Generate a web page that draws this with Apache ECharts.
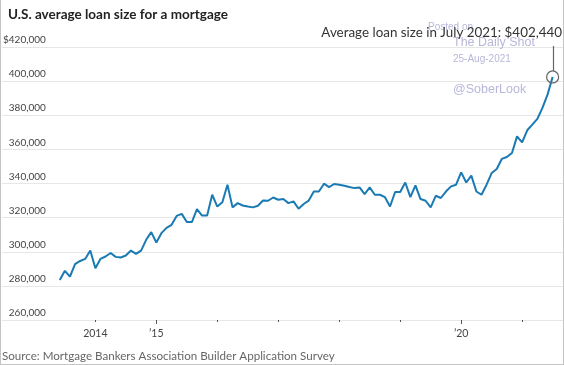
<!DOCTYPE html>
<html><head><meta charset="utf-8">
<script src="https://cdn.jsdelivr.net/npm/echarts@6/dist/echarts.min.js"></script>
<style>html,body{margin:0;padding:0;background:#fff}#c{width:564px;height:365px}</style>
</head><body><div id="c"></div>
<script>
// Monthly average loan size (US$ thousands), June 2013 - July 2021
const startYear = 2013, startMonth = 6;
const values2013 = [283.5, 288.8, 285.4, 292.7, 294.6, 295.8, 300.7];
const values2014 = [290.3, 295.8, 297.2, 299.3, 297.0, 296.6, 297.8, 300.7, 298.8, 300.7, 307.0, 311.5];
const values2015 = [305.4, 310.9, 314.0, 315.8, 321.0, 322.2, 317.4, 317.4, 325.0, 321.2, 321.2, 333.4];
const values2016 = [326.5, 329.0, 339.3, 326.0, 328.5, 327.1, 326.5, 326.0, 327.0, 330.0, 329.9, 331.8];
const values2017 = [330.5, 330.9, 328.5, 329.5, 325.2, 328.0, 330.0, 335.3, 335.3, 339.9, 337.9, 339.7];
const values2018 = [339.3, 338.7, 337.9, 337.3, 337.7, 333.8, 337.7, 333.4, 333.4, 332.0, 326.5, 335.0];
const values2019 = [335.0, 340.6, 332.0, 338.9, 330.9, 329.9, 326.0, 332.8, 331.5, 335.3, 338.3, 339.3];
const values2020 = [346.5, 340.6, 344.6, 335.3, 333.4, 339.3, 346.1, 348.5, 354.4, 355.5, 357.9, 367.6];
const values2021 = [364.1, 371.2, 374.5, 377.9, 384.3, 392.1, 402.44];

const yTickValues = [260000, 280000, 300000, 320000, 340000, 360000, 380000, 400000, 420000];
const minorTickYears = [2014, 2016, 2017, 2018, 2019, 2021];
const majorTickYears = [2015, 2020];
const labelYears = [2014, 2015, 2020];
const labelText = {2014: '2014', 2015: '\u201915', 2020: '\u201920'};

const titleText = 'U.S. average loan size for a mortgage';
const sourceText = 'Source: Mortgage Bankers Association Builder Application Survey';
const annotationText = 'Average loan size in July 2021: $402,440';

const allValues = [].concat(values2013, values2014, values2015, values2016, values2017,
  values2018, values2019, values2020, values2021);
const seriesData = allValues.map((v, i) => {
  const m = startMonth - 1 + i;
  return [startYear + Math.floor(m / 12) + (m % 12) / 12, v * 1000];
});

const FONT = 'Lato, "Noto Sans", sans-serif';
const XMIN = 2014 - 93.8 / 61.17, XMAX = 2014 + (564 - 93.8) / 61.17;

const chart = echarts.init(document.getElementById('c'), null, {renderer: 'canvas'});
const fmt = v => (v === 420000 ? '$' : '') + v.toLocaleString('en-US');

chart.setOption({
  animation: false,
  backgroundColor: '#fff',
  title: {
    text: titleText, left: 3, top: 3,
    textStyle: {fontFamily: FONT, fontSize: 13.5, fontWeight: 'bold', color: '#222'}
  },
  grid: {left: 0, right: 0, top: 47, bottom: 45},
  xAxis: [{
    type: 'value', min: XMIN, max: XMAX,
    splitLine: {show: false},
    axisLine: {show: false},
    axisTick: {show: true, customValues: minorTickYears, length: 2, lineStyle: {color: '#555'}},
    axisLabel: {customValues: labelYears, formatter: v => labelText[Math.round(v)] || '',
      margin: 8, fontFamily: FONT, fontSize: 10.5, color: '#444'}
  }, {
    type: 'value', min: XMIN, max: XMAX, position: 'bottom',
    splitLine: {show: false},
    axisLine: {show: false},
    axisTick: {show: true, customValues: majorTickYears, length: 4, lineStyle: {color: '#555'}},
    axisLabel: {show: false}
  }],
  yAxis: {
    type: 'value', min: 260000, max: 420000, interval: 20000,
    axisLine: {show: false}, axisTick: {show: false},
    splitLine: {lineStyle: {color: '#e6e6e6', width: 1}},
    axisLabel: {inside: true, margin: 44, align: 'right', verticalAlign: 'bottom',
      padding: [0, 0, 2, 0], fontFamily: FONT, fontSize: 10, color: '#444',
      formatter: fmt}
  },
  series: [{
    type: 'line', data: seriesData, showSymbol: false, symbol: 'none',
    lineStyle: {color: '#1a7ab3', width: 2}, z: 3
  }]
});

const last = seriesData[seriesData.length - 1];
const p = chart.convertToPixel({xAxisIndex: 0, yAxisIndex: 0}, last);
const wm = '#b7b7d9';
chart.setOption({
  graphic: [
    {type: 'line', shape: {x1: 0.5, y1: 0, x2: 0.5, y2: 365}, style: {stroke: '#c4c4c4', lineWidth: 1}, z: 10},
    {type: 'line', shape: {x1: 563.5, y1: 0, x2: 563.5, y2: 365}, style: {stroke: '#c4c4c4', lineWidth: 1}, z: 10},
    {type: 'line', shape: {x1: 0, y1: 364.5, x2: 564, y2: 364.5}, style: {stroke: '#c4c4c4', lineWidth: 1}, z: 10},
    {type: 'text', x: 2, y: 356, style: {text: sourceText, font: '11.6px ' + FONT, fill: '#666', textVerticalAlign: 'middle'}, z: 10},
    {type: 'text', x: 428, y: 27, style: {text: 'Posted on', font: '10px "Liberation Sans", Arial, sans-serif', fill: wm, textVerticalAlign: 'middle'}, z: 8},
    {type: 'text', x: 453, y: 42.5, style: {text: 'The Daily Shot', font: '12.5px "Liberation Sans", Arial, sans-serif', fill: wm, textVerticalAlign: 'middle'}, z: 8},
    {type: 'text', x: 453, y: 59.5, style: {text: '25-Aug-2021', font: '10px "Liberation Sans", Arial, sans-serif', fill: wm, textVerticalAlign: 'middle'}, z: 8},
    {type: 'text', x: 453, y: 89.5, style: {text: '@SoberLook', font: '12.5px "Liberation Sans", Arial, sans-serif', fill: wm, textVerticalAlign: 'middle'}, z: 8},
    {type: 'text', x: 562, y: 33, style: {text: annotationText, font: '13.4px ' + FONT, fill: '#333', textAlign: 'right', textVerticalAlign: 'middle'}, z: 9},
    {type: 'line', shape: {x1: Math.round(p[0]) + 0.5, y1: 46, x2: Math.round(p[0]) + 0.5, y2: p[1] - 6}, style: {stroke: '#666', lineWidth: 1.2}, z: 9},
    {type: 'circle', shape: {cx: p[0], cy: p[1], r: 6}, style: {fill: 'rgba(255,255,255,0)', stroke: '#666', lineWidth: 1.2}, z: 9}
  ]
});
</script></body></html>
